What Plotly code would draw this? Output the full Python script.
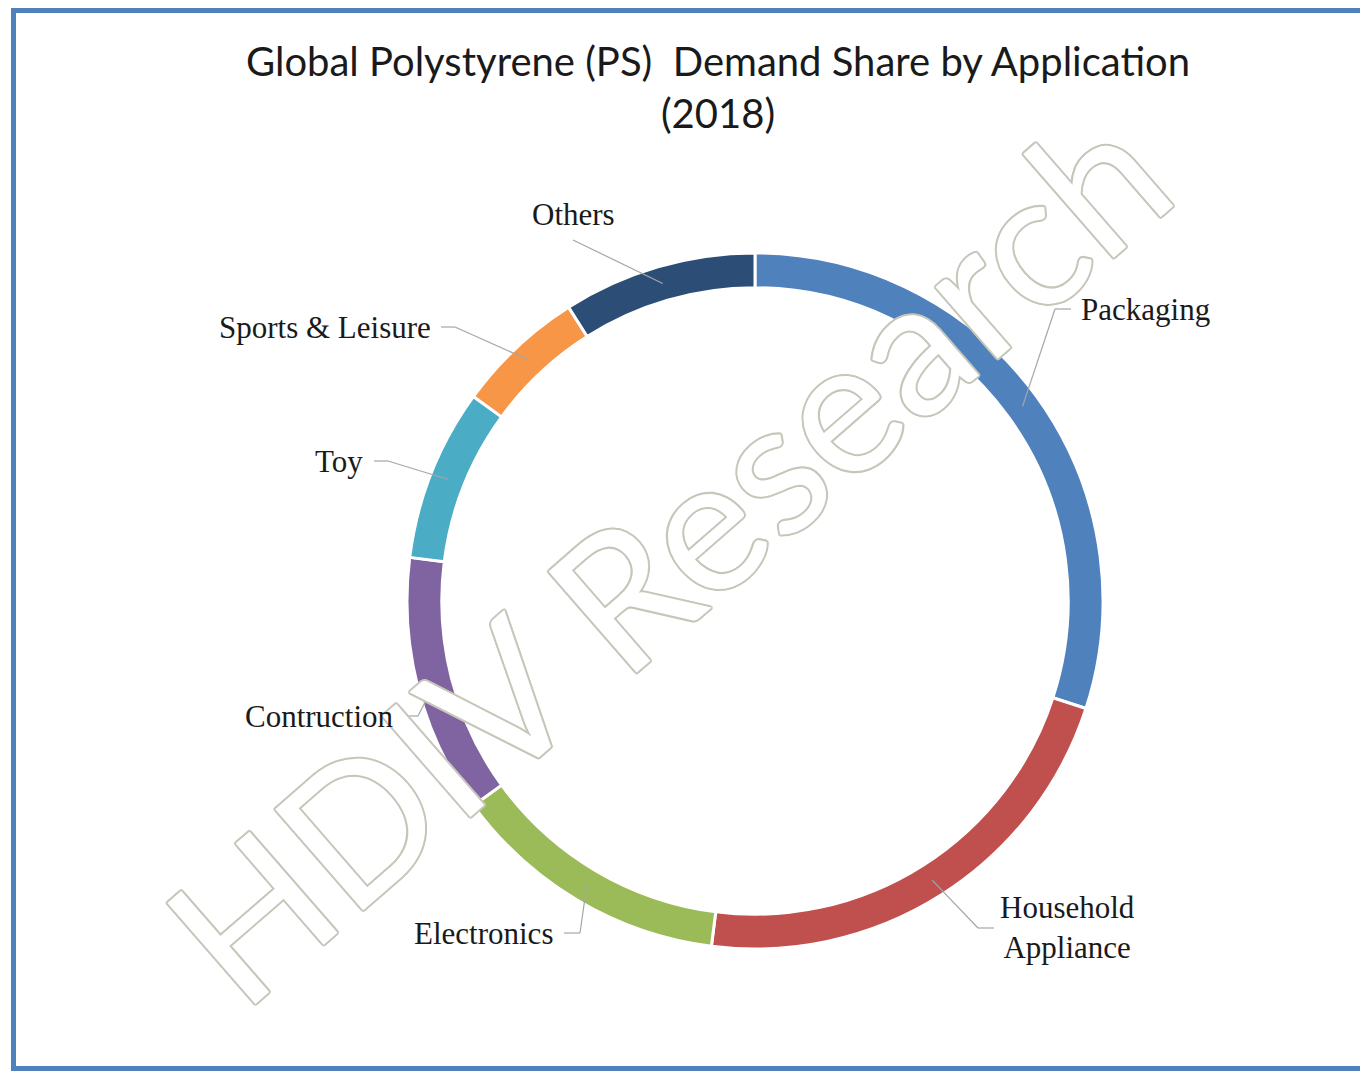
import math
import plotly.graph_objects as go

# ---- data ----
categories = ["Packaging", "Household Appliance", "Electronics", "Contruction",
              "Toy", "Sports & Leisure", "Others"]
shares = [30, 22, 13, 12, 8, 6, 9]
label_texts = ["Packaging", "Household<br>Appliance", "Electronics", "Contruction",
               "Toy", "Sports & Leisure", "Others"]
colors = ["#4F81BD", "#C0504D", "#9BBB59", "#8064A2", "#4BACC6", "#F79646", "#2C4D75"]

# ---- layout constants (pixels, screen coords) ----
W, H = 1368, 1071
OFF = 8  # page body margin
CX, CY, R = 755, 601, 348
HOLE = 0.90
R_MID = R * (1 + HOLE) / 2

def px(x):
    return (x - OFF) / W

def py(y):
    return 1 - (y - OFF) / H

# label placement: (elbow x, elbow y, end x, text x, text anchor)
label_layout = [
    (1055, 309, 1071, 1079, "left"),
    (978, 928, 994, 998, "left"),
    (580, 933, 564, 555, "right"),
    (418, 716, 405, 396, "right"),
    (388, 461, 374, 365, "right"),
    (455, 327, 441, 433, "right"),
    (573, 240, None, 573, "center"),
]

fig = go.Figure()
fig.add_trace(go.Pie(
    labels=categories,
    values=shares,
    hole=HOLE,
    sort=False,
    direction="clockwise",
    rotation=0,
    textinfo="none",
    marker=dict(colors=colors, line=dict(color="white", width=3)),
    domain=dict(x=[px(CX - R), px(CX + R)], y=[py(CY + R), py(CY - R)]),
    showlegend=False,
    hoverinfo="label+percent",
))

shapes = []
annotations = []

# watermark
wm = "#c6c6ba"
annotations.append(dict(
    text="HDIV Research", x=px(664), y=py(552), xref="paper", yref="paper",
    showarrow=False, textangle=-41,
    font=dict(family="Lato", size=187, color="white",
              shadow=f"2px 0 0 {wm}, -2px 0 0 {wm}, 0 2px 0 {wm}, 0 -2px 0 {wm}, "
                     f"1.5px 1.5px 0 {wm}, -1.5px -1.5px 0 {wm}, 1.5px -1.5px 0 {wm}, -1.5px 1.5px 0 {wm}"),
))

# leader lines and labels (start point computed from slice mid-angles)
total = sum(shares)
cum = 0
for val, txt, (ex, ey, endx, tx, anchor) in zip(shares, label_texts, label_layout):
    mid = (cum + val / 2) / total * 2 * math.pi
    cum += val
    sx = CX + R_MID * math.sin(mid)
    sy = CY - R_MID * math.cos(mid)
    shapes.append(dict(type="line", xref="paper", yref="paper",
                       x0=px(sx), y0=py(sy), x1=px(ex), y1=py(ey),
                       line=dict(color="#A6A6A6", width=1.2)))
    if endx is not None:
        shapes.append(dict(type="line", xref="paper", yref="paper",
                           x0=px(ex), y0=py(ey), x1=px(endx), y1=py(ey),
                           line=dict(color="#A6A6A6", width=1.2)))
        ty = ey
    else:
        ty = ey - 25
    annotations.append(dict(
        text=txt, x=px(tx), y=py(ty), xref="paper", yref="paper",
        xanchor=anchor, yanchor="middle", align="center", showarrow=False,
        font=dict(family="Liberation Serif", size=31, color="#1a1a1a"),
    ))

# frame
shapes.append(dict(type="rect", xref="paper", yref="paper",
                   x0=px(13.5), y0=py(1068.5), x1=1.02, y1=py(10.5),
                   line=dict(color="#4F81BD", width=5), layer="above"))

fig.update_layout(
    width=W, height=H,
    margin=dict(l=0, r=0, t=0, b=0),
    paper_bgcolor="white", plot_bgcolor="white",
    title=dict(text="Global Polystyrene (PS)  Demand Share by Application<br>(2018)",
               x=px(718), xanchor="center", y=py(76), yanchor="middle",
               font=dict(family="Lato", size=40, color="#1a1a1a")),
    shapes=shapes,
    annotations=annotations,
)

fig.write_html("out.html")
